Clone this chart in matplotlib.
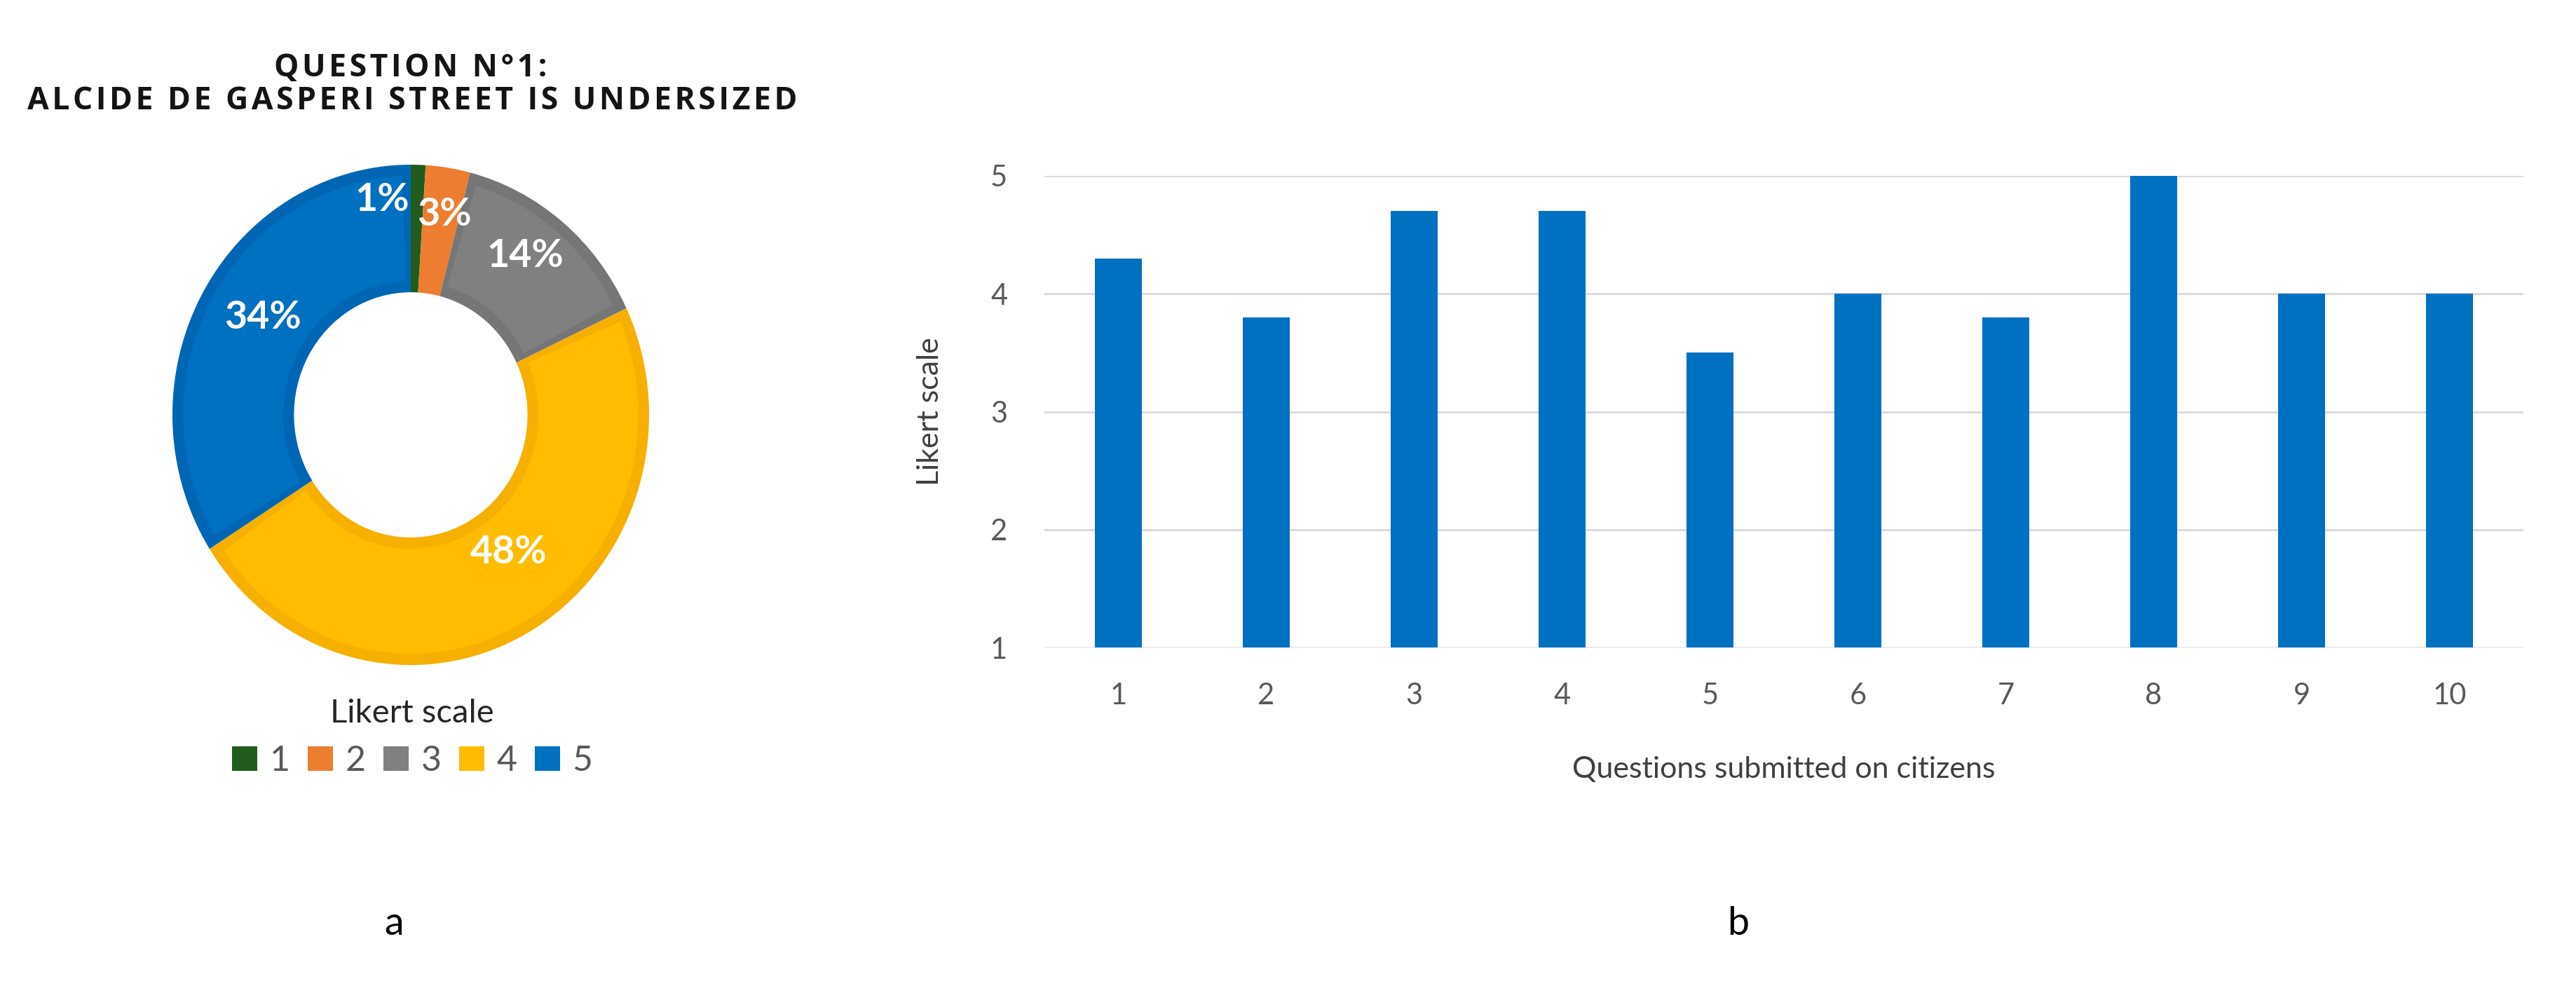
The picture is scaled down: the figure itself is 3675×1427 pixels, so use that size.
import matplotlib
matplotlib.use("Agg")
import matplotlib.pyplot as plt
from matplotlib.patches import Wedge, Patch

plt.rcParams['font.family'] = ['Lato', 'DejaVu Sans']

# ---------------- data ----------------
likert_levels = ["1", "2", "3", "4", "5"]
likert_shares = [1, 3, 14, 48, 34]
share_labels = ["1%", "3%", "14%", "48%", "34%"]
slice_colors = ["#225C1C", "#ED7D31", "#808080", "#FFBC00", "#0070C0"]
slice_edge_colors = ["#225C1C", "#ED7D31", "#767676", "#F5B000", "#0066B4"]

questions = [1, 2, 3, 4, 5, 6, 7, 8, 9, 10]
question_scores = [4.3, 3.8, 4.7, 4.7, 3.5, 4.0, 3.8, 5.0, 4.0, 4.0]
y_ticks = [1, 2, 3, 4, 5]

title_lines = ["QUESTION N°1:", "ALCIDE DE GASPERI STREET IS UNDERSIZED"]

# ---------------- figure ----------------
W, H = 3675, 1427
fig = plt.figure(figsize=(W / 100, H / 100), dpi=100)
fig.patch.set_facecolor("white")


def px_axes(x0, y0, x1, y1):
    """add axes from pixel box (top-left origin)"""
    return fig.add_axes([x0 / W, 1 - y1 / H, (x1 - x0) / W, (y1 - y0) / H])


def spaced(s):
    # letter-spaced rendering using hair spaces
    return "\u200a".join(s)


# ---------------- donut ----------------
axp = px_axes(246, 235, 926, 949)
wedges, _ = axp.pie(likert_shares, colors=slice_edge_colors, startangle=90,
                    counterclock=False, radius=1.0,
                    wedgeprops=dict(width=0.51, edgecolor="none"))
# inner lighter bevel
for w, c in zip(wedges, slice_colors):
    span = w.theta2 - w.theta1
    if span > 20:
        d = 2.2
        axp.add_patch(Wedge((0, 0), 0.955, w.theta1 + d, w.theta2 - d,
                            width=0.42, facecolor=c, edgecolor="none"))
axp.set_aspect("auto")
axp.set_xlim(-1, 1)
axp.set_ylim(-1, 1)
axp.axis("off")

label_pos = [(-0.12, 0.86), (0.14, 0.80), (0.48, 0.635), (0.41, -0.55), (-0.62, 0.39)]
for lab, (lx, ly) in zip(share_labels, label_pos):
    axp.text(lx, ly, lab, ha="center", va="center", color="white",
             fontsize=40, fontweight="bold")

title_font = dict(family=["Open Sans", "DejaVu Sans"], fontsize=32,
                  fontweight="bold", color="#141414")
fig.text(586 / W, 1 - 98 / H, spaced(title_lines[0]), ha="center", va="center", **title_font)
fig.text(588 / W, 1 - 144 / H, spaced(title_lines[1]), ha="center", va="center", **title_font)

handles = [Patch(facecolor=c, edgecolor="none") for c in slice_colors]
leg = fig.legend(handles, likert_levels, loc="center",
                 bbox_to_anchor=(588 / W, 1 - 1053 / H), ncol=5, frameon=False,
                 title="Likert scale", fontsize=36, title_fontsize=34,
                 handlelength=0.72, handleheight=0.72, handletextpad=0.36,
                 columnspacing=0.5, labelspacing=0.48)
for t in leg.get_texts():
    t.set_color("#595959")
leg.get_title().set_color("#262626")

# ---------------- bar chart ----------------
axb = px_axes(1490, 251, 3600, 924)
axb.bar(questions, question_scores, width=0.315, color="#0070C0", zorder=3)
axb.set_ylim(1, 5)
axb.set_xlim(0.5, 10.5)
axb.set_yticks(y_ticks)
axb.set_xticks(questions)
axb.grid(axis="y", color="#D9D9D9", linewidth=2.0, zorder=0)
for s in axb.spines.values():
    s.set_visible(False)
axb.tick_params(axis="both", length=0, labelsize=30, labelcolor="#595959")
axb.tick_params(axis="y", pad=38)
axb.tick_params(axis="x", pad=36)
axb.set_xlabel("Questions submitted on citizens", fontsize=31, color="#404040",
               labelpad=48)
axb.set_ylabel("Likert scale", fontsize=31, color="#404040", labelpad=48)

# panel letters
fig.text(562 / W, 1 - 1318 / H, "a", ha="center", va="center", fontsize=40, color="black")
fig.text(2480 / W, 1 - 1318 / H, "b", ha="center", va="center", fontsize=40, color="black")

fig.savefig("out.png", dpi=100, facecolor="white")
